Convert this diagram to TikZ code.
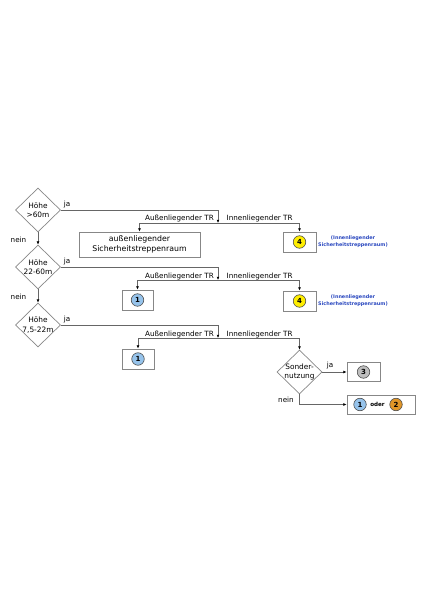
\documentclass[tikz,border=0pt]{standalone}
\usepackage{fontspec}
\setmainfont{DejaVu Sans}
\usetikzlibrary{shapes.geometric,arrows.meta}
\definecolor{lgray}{RGB}{135,135,135}
\definecolor{cblue}{RGB}{150,195,235}
\definecolor{cyellow}{RGB}{255,238,0}
\definecolor{cgray}{RGB}{190,190,190}
\definecolor{corange}{RGB}{225,150,40}
\definecolor{tblue}{RGB}{40,70,190}
\tikzset{
  dia/.style={draw=lgray, shape=diamond, minimum width=45pt, minimum height=44pt, inner sep=0pt, line width=0.7pt},
  dtext/.style={font=\fontsize{7.4}{9.5}\selectfont, align=center, inner sep=0pt},
  box/.style={draw=lgray, line width=0.8pt, inner sep=0pt},
  conn/.style={draw=black!60, line width=0.6pt},
  arr/.style={conn, -{Latex[length=3.2pt,width=2.8pt,black]}},
  trlab/.style={font=\fontsize{7.2}{8}\selectfont, inner sep=0pt},
  yn/.style={font=\fontsize{7.2}{8}\selectfont, inner sep=0pt},
  bluelab/.style={font=\fontsize{4.9}{7}\selectfont\bfseries, text=tblue, align=center, inner sep=0pt},
  num/.style={circle, draw=black!70, line width=0.6pt, minimum size=12.5pt, inner sep=0pt, font=\fontsize{7}{8}\selectfont\bfseries},
  btext/.style={font=\fontsize{7.8}{10}\selectfont, align=center}
}
\begin{document}
\begin{tikzpicture}[x=1pt,y=-1pt]
\useasboundingbox (0,0) rectangle (425,601);

% decision diamonds
\node[dia, label={[dtext]center:{Höhe\\>60m}}] (d1) at (38,210) {};
\node[dia, label={[dtext]center:{Höhe\\22-60m}}] (d2) at (38,267) {};
\node[dia, label={[dtext]center:{Höhe\\7,5-22m}}] (d3) at (38,325) {};
\node[dia, label={[dtext]center:{Sonder-\\nutzung}}] (ds) at (299.5,372) {};

% junctions
\coordinate (j1) at (218,223);
\coordinate (j2) at (218,280);
\coordinate (j3) at (218,338);

% boxes
\node[box, minimum width=121pt, minimum height=25pt] (b1a) at (139.5,244.5) {};
\node[btext] at (b1a.center) {außenliegender\\Sicherheitstreppenraum};
\node[box, minimum width=33pt, minimum height=20pt] (b4a) at (299.5,242) {};
\node[num, fill=cyellow] at (b4a.center) {4};
\node[bluelab] (l4a) at (353,241.5) {(Innenliegender\\Sicherheitstreppenraum)};

\node[box, minimum width=31pt, minimum height=20pt] (b1b) at (137.5,300) {};
\node[num, fill=cblue] at (b1b.center) {1};
\node[box, minimum width=33pt, minimum height=20pt] (b4b) at (299.5,301) {};
\node[num, fill=cyellow] at (b4b.center) {4};
\node[bluelab] (l4b) at (353,300.5) {(Innenliegender\\Sicherheitstreppenraum)};

\node[box, minimum width=32pt, minimum height=20pt] (b1c) at (138,359) {};
\node[num, fill=cblue] at (b1c.center) {1};

\node[box, minimum width=33pt, minimum height=19pt] (b3) at (363.5,372) {};
\node[num, fill=cgray] at (b3.center) {3};
\node[box, minimum width=68pt, minimum height=19pt] (b12) at (381,404.5) {};
\node[num, fill=cblue] (c1) at (360,404.5) {1};
\node[font=\fontsize{5.6}{7}\selectfont\bfseries, inner sep=0pt] (oder) at (377.5,404.5) {oder};
\node[num, fill=corange] (c2) at (396,404.5) {2};

% connectors
\draw[arr] (d1.south) -- (d2.north);
\draw[arr] (d2.south) -- (d3.north);

\draw[arr] (d1.east) -| (j1);
\draw[arr] (j1) -| (b1a.north);
\draw[arr] (j1) -| (b4a.north);

\draw[arr] (d2.east) -| (j2);
\draw[arr] (j2) -| (b1b.north);
\draw[arr] (j2) -| (b4b.north);

\draw[arr] (d3.east) -| (j3);
\draw[arr] (j3) -| (b1c.north);
\draw[arr] (j3) -| (ds.north);

\draw[arr] (ds.east) -- (b3.west);
\draw[arr] (ds.south) |- (b12.west);

% labels
\node[yn] at (67,205) {ja};
\node[yn] at (67,262) {ja};
\node[yn] at (67,320) {ja};
\node[yn] at (18.5,239.5) {nein};
\node[yn] at (18.5,296.5) {nein};
\node[yn] at (330,365.5) {ja};
\node[yn] at (286,399.5) {nein};

\node[trlab, anchor=base east] at (214,221) {Außenliegender TR};
\node[trlab, anchor=base west] at (226.5,221) {Innenliegender TR};
\node[trlab, anchor=base east] at (214,278) {Außenliegender TR};
\node[trlab, anchor=base west] at (226.5,278) {Innenliegender TR};
\node[trlab, anchor=base east] at (214,336) {Außenliegender TR};
\node[trlab, anchor=base west] at (226.5,336) {Innenliegender TR};
\end{tikzpicture}
\end{document}
